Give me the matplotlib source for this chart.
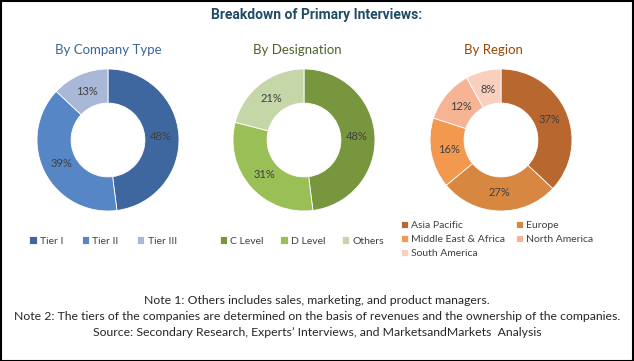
import matplotlib.pyplot as plt
from matplotlib.patches import Rectangle

# Data
company_labels = ['Tier I', 'Tier II', 'Tier III']
company_values = [48, 39, 13]
company_colors = ['#3E67A0', '#5686C6', '#A9B8D7']

designation_labels = ['C Level', 'D Level', 'Others']
designation_values = [48, 31, 21]
designation_colors = ['#77963D', '#9BBF57', '#C5D6A9']

region_labels = ['Asia Pacific', 'Europe', 'Middle East & Africa',
                 'North America', 'South America']
region_values = [37, 27, 16, 12, 8]
region_colors = ['#B8672F', '#D7873F', '#F2984F', '#F6B495', '#F9CFBE']

notes = [
    'Note 1: Others includes sales, marketing, and product managers.',
    'Note 2: The tiers of the companies are determined on the basis of revenues and the ownership of the companies.',
    'Source: Secondary Research, Experts\u2019 Interviews, and MarketsandMarkets  Analysis',
]

W, H = 634, 361
FONT = 'Lato'

fig = plt.figure(figsize=(W / 100, H / 100), dpi=100)
ax = fig.add_axes([0, 0, 1, 1])


def donut(values, colors, cx, cy, r=71):
    wedges, _, pcts = ax.pie(
        values, colors=colors, center=(cx, H - cy), radius=r,
        startangle=90, counterclock=False,
        autopct=lambda p: f'{p:.0f}%', pctdistance=0.74,
        wedgeprops=dict(width=r * 0.48, edgecolor='white', linewidth=0.6),
        textprops=dict(fontsize=8, color='#404040', family=FONT))
    return wedges


w1 = donut(company_values, company_colors, 108, 140)
w2 = donut(designation_values, designation_colors, 304, 140)
w3 = donut(region_values, region_colors, 501, 140)

ax.set_xlim(0, W)
ax.set_ylim(0, H)
ax.set_aspect('auto')
ax.axis('off')

# Border
ax.add_patch(Rectangle((0.5, 0.5), W - 1.5, H - 1.5, fill=False,
                       edgecolor='black', linewidth=1.5))

# Titles
fig.text(317 / W, 1 - 15 / H, 'Breakdown of Primary Interviews:',
         ha='center', va='center', fontsize=10, fontweight='bold',
         color='#1F4B66', family='Roboto', stretch='condensed')
fig.text(108 / W, 1 - 50 / H, 'By Company Type', ha='center', va='center',
         fontsize=9.5, color='#3B6596', family=FONT)
fig.text(297 / W, 1 - 50 / H, 'By Designation', ha='center', va='center',
         fontsize=9.5, color='#4F6228', family=FONT)
fig.text(493 / W, 1 - 50 / H, 'By Region', ha='center', va='center',
         fontsize=9.5, color='#974806', family=FONT)

leg_kw = dict(frameon=False, handlelength=0.7, handleheight=0.7,
              handletextpad=0.3, borderaxespad=0, borderpad=0,
              prop=dict(family=FONT, size=7.5), labelcolor='#404040')

fig.legend(w1, company_labels, loc='center', ncol=3, columnspacing=1.8,
           bbox_to_anchor=(103 / W, 1 - 241 / H), **leg_kw)
fig.legend(w2, designation_labels, loc='center', ncol=3, columnspacing=1.6,
           bbox_to_anchor=(302 / W, 1 - 241 / H), **leg_kw)

# legend fills column by column; reorder so it reads row by row
order = [0, 2, 4, 1, 3]
fig.legend([w3[i] for i in order], [region_labels[i] for i in order],
           loc='upper left', ncol=2, columnspacing=1.0, labelspacing=0.45,
           bbox_to_anchor=(401 / W, 1 - 221 / H), **leg_kw)

# Notes
for text, y in zip(notes, [300, 317, 333]):
    fig.text(317 / W, 1 - y / H, text, ha='center', va='center',
             fontsize=8.8, color='#262626', family=FONT)

fig.savefig('out.png', dpi=100)
